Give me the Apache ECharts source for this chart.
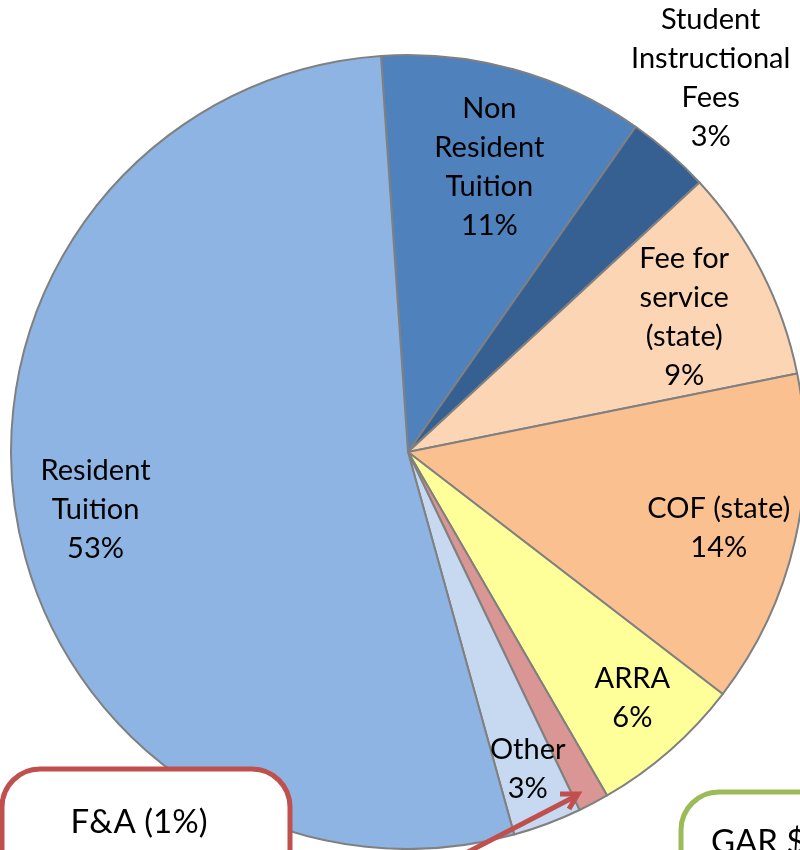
<!DOCTYPE html>
<html>
<head>
<meta charset="utf-8">
<script src="https://cdn.jsdelivr.net/npm/echarts@6/dist/echarts.min.js"></script>
<style>
  html, body { margin: 0; padding: 0; background: #fff; }
  #chart { width: 800px; height: 850px; }
</style>
</head>
<body>
<div id="chart"></div>
<script>
// revenue share by source (%), clockwise from the top
const categories = ['Non\nResident\nTuition', 'Student\nInstructional\nFees', 'Fee for\nservice\n(state)', 'COF (state)', 'ARRA', 'F&A', 'Other', 'Resident\nTuition'];
const shares = [10.8, 3.4, 8.7, 13.6, 6.2, 1.25, 2.8, 53.2];
const colors = ['#4F81BD', '#376092', '#FCD5B5', '#FAC090', '#FFFF99', '#D99694', '#C6D9F1', '#8EB4E3'];
// label distance from centre (fraction of radius) and small pixel nudges
const labelDist = [0.74, 1.2, 0.77, 0.795, 0.82, 0, 0.845, 0.795];
const labelNudge = [[2, 0], [-13, -12], [2, 5], [1, 4], [8, 0], [0, 0], [1, 1], [1, 4]];

const cx = 408, cy = 452, R = 397;
const startAngle = 93.9;

const chart = echarts.init(document.getElementById('chart'));

const total = shares.reduce((a, b) => a + b, 0);
const midAngles = [];
let acc = 0;
shares.forEach(v => {
  midAngles.push((90 - startAngle) + 360 * (acc + v / 2) / total);
  acc += v;
});

const option = {
  animation: false,
  series: [{
    type: 'pie',
    center: [cx, cy],
    radius: [0, R],
    startAngle: startAngle,
    clockwise: true,
    silent: true,
    percentPrecision: 0,
    itemStyle: { borderColor: '#808080', borderWidth: 2 },
    label: {
      show: true,
      position: 'inside',
      formatter: '{b}\n{d}%',
      color: '#000',
      fontFamily: 'Lato',
      fontSize: 29,
      lineHeight: 39
    },
    labelLine: { show: false },
    labelLayout: function (params) {
      const i = params.dataIndex;
      const a = midAngles[i] * Math.PI / 180;
      const d = labelDist[i] * 400;
      return {
        x: cx + d * Math.sin(a) + labelNudge[i][0],
        y: cy - d * Math.cos(a) + labelNudge[i][1],
        align: 'center',
        verticalAlign: 'middle'
      };
    },
    data: categories.map((name, i) => ({
      name: name,
      value: shares[i],
      itemStyle: { color: colors[i] },
      label: { show: labelDist[i] > 0 }
    }))
  }],
  graphic: [
    {
      type: 'rect', z: 100,
      shape: { x: 2, y: 769, width: 288, height: 160, r: 38 },
      style: { fill: '#fff', stroke: '#C0504D', lineWidth: 5 }
    },
    {
      type: 'text', z: 101, x: 139, y: 822,
      style: { text: 'F&A (1%)', fontFamily: 'Lato', fontSize: 33, fill: '#000', align: 'center', verticalAlign: 'middle' }
    },
    {
      type: 'rect', z: 100,
      shape: { x: 681, y: 792, width: 220, height: 160, r: 38 },
      style: { fill: '#fff', stroke: '#9BBB59', lineWidth: 5 }
    },
    {
      type: 'text', z: 101, x: 711, y: 842,
      style: { text: 'GAR $', fontFamily: 'Lato', fontSize: 33, fill: '#000', align: 'left', verticalAlign: 'middle' }
    },
    {
      type: 'polyline', z: 102,
      shape: { points: [[466, 853], [576, 796]] },
      style: { stroke: '#C0504D', lineWidth: 5, fill: null }
    },
    {
      type: 'polyline', z: 102,
      shape: { points: [[560, 794], [578, 794], [569, 809]] },
      style: { stroke: '#C0504D', lineWidth: 5, fill: null, lineJoin: 'miter' }
    }
  ]
};

chart.setOption(option);
</script>
</body>
</html>
